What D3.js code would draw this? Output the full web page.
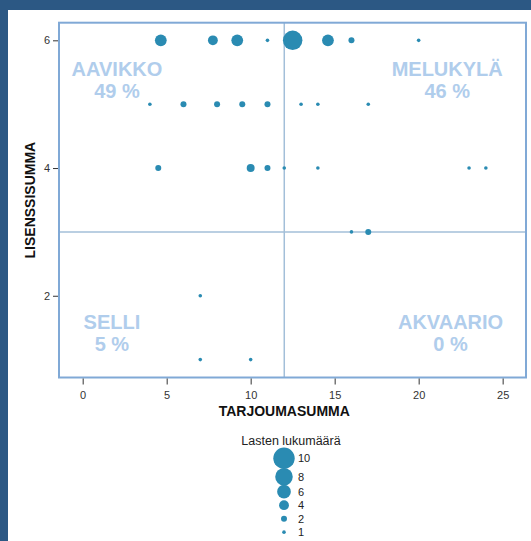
<html>
    <style>
        body {
            margin: 0;
            background: #2c5884;
        }

        svg {
            display: block;
            font-family: 'Liberation Sans', Arial, sans-serif;
        }

        .tick text {
            font-size: 11px;
            fill: #333;
        }

        .tick line {
            stroke: #333;
        }

        .axis-label {
            font-size: 14px;
            font-weight: bold;
            fill: #111;
        }

        .quadrant {
            font-size: 20px;
            font-weight: bold;
            fill: #b0cdec;
            text-anchor: middle;
        }

        .legend-title {
            font-size: 12.5px;
            fill: #222;
            text-anchor: middle;
        }

        .legend-label {
            font-size: 11px;
            fill: #222;
        }
    </style>

    <body>
        <svg width="531" height="541"></svg>

        <script src="https://cdn.jsdelivr.net/npm/d3@7/dist/d3.min.js"></script>

        <script>
            // tarjoumasumma (x), lisenssisumma (y), lasten lukumäärä (size)
            let tarjous = [
                4.65, 7.75, 9.2, 11, 12.5, 14.6, 16, 20,
                4, 6, 8, 9.5, 11, 13, 14, 17,
                4.5, 10, 11, 12, 14, 23, 24,
                16, 17,
                7,
                7, 10
            ]
            let lisenssi = [
                6, 6, 6, 6, 6, 6, 6, 6,
                5, 5, 5, 5, 5, 5, 5, 5,
                4, 4, 4, 4, 4, 4, 4,
                3, 3,
                2,
                1, 1
            ]
            let lapset = [
                5, 4, 5, 1, 9, 5, 2, 1,
                1, 2, 2, 2, 2, 1, 1, 1,
                2, 3, 2, 1, 1, 1, 1,
                1, 2,
                1,
                1, 1
            ]

            let xTicks = [0, 5, 10, 15, 20, 25]
            let yTicks = [2, 4, 6]
            let legendValues = [10, 8, 6, 4, 2, 1]

            let quadrants = [
                {name: "AAVIKKO", pct: "49 %", x: 2.04, y: 5.44},
                {name: "MELUKYLÄ", pct: "46 %", x: 21.7, y: 5.44},
                {name: "SELLI", pct: "5 %", x: 1.74, y: 1.48},
                {name: "AKVAARIO", pct: "0 %", x: 21.9, y: 1.48}
            ]

            let data = tarjous.map((d, i) => ({x: d, y: lisenssi[i], n: lapset[i]}))

            let svg = d3.select("svg")

            let frame = {left: 59, right: 526, top: 22.7, bottom: 377.5}

            let x = d3.scaleLinear()
                .domain([-1.41, 26.39])
                .range([frame.left, frame.right])

            let y = d3.scaleLinear()
                .domain([0.72, 6.276])
                .range([frame.bottom, frame.top])

            let r = d3.scaleLinear()
                .domain([1, 2, 10])
                .range([1.8, 3, 10.7])

            let color = "#2a8bb2"

            // white panel
            svg.append("rect")
                .attr("x", 8)
                .attr("y", 10)
                .attr("width", 531 - 8)
                .attr("height", 541 - 10)
                .attr("fill", "white")

            // quadrant labels
            quadrants.forEach(q => {
                svg.append("text")
                    .attr("class", "quadrant")
                    .attr("x", x(q.x))
                    .attr("y", y(q.y))
                    .text(q.name)
                svg.append("text")
                    .attr("class", "quadrant")
                    .attr("x", x(q.x))
                    .attr("y", y(q.y) + 22)
                    .text(q.pct)
            })

            // reference lines
            svg.append("line")
                .attr("x1", x(12)).attr("x2", x(12))
                .attr("y1", frame.top).attr("y2", frame.bottom)
                .attr("stroke", "#a3bfd9")
                .attr("stroke-width", 1.5)

            svg.append("line")
                .attr("x1", frame.left).attr("x2", frame.right)
                .attr("y1", y(3)).attr("y2", y(3))
                .attr("stroke", "#a3bfd9")
                .attr("stroke-width", 1.5)

            // points
            svg.append("g")
                .selectAll("circle")
                .data(data)
                .join("circle")
                .attr("cx", d => x(d.x))
                .attr("cy", d => y(d.y))
                .attr("r", d => r(d.n))
                .attr("fill", color)

            // frame
            svg.append("rect")
                .attr("x", frame.left)
                .attr("y", frame.top)
                .attr("width", frame.right - frame.left)
                .attr("height", frame.bottom - frame.top)
                .attr("fill", "none")
                .attr("stroke", "#80a9d6")
                .attr("stroke-width", 2)

            // axes
            svg.append("g")
                .attr("transform", `translate(0, ${frame.bottom + 1})`)
                .call(d3.axisBottom(x).tickValues(xTicks).tickSize(6).tickPadding(7))
                .call(g => g.select(".domain").remove())

            svg.append("g")
                .attr("transform", `translate(${frame.left - 1}, 0)`)
                .call(d3.axisLeft(y).tickValues(yTicks).tickSize(5).tickPadding(3)
                    .tickFormat(d3.format("d")))
                .call(g => g.select(".domain").remove())

            svg.append("text")
                .attr("class", "axis-label")
                .attr("text-anchor", "middle")
                .attr("x", x(12))
                .attr("y", 416)
                .text("TARJOUMASUMMA")

            svg.append("text")
                .attr("class", "axis-label")
                .attr("text-anchor", "middle")
                .attr("transform", `translate(35, ${(frame.top + frame.bottom) / 2}) rotate(-90)`)
                .text("LISENSSISUMMA")

            // legend
            let legend = svg.append("g")
            legend.append("text")
                .attr("class", "legend-title")
                .attr("x", 291)
                .attr("y", 445)
                .text("Lasten lukumäärä")

            let ly = 458.3
            legendValues.forEach((v, i) => {
                if (i > 0) {
                    ly += Math.max(13.5, (r(legendValues[i - 1]) + r(v)) * 0.95)
                }
                legend.append("circle")
                    .attr("cx", 284)
                    .attr("cy", ly)
                    .attr("r", r(v))
                    .attr("fill", color)
                legend.append("text")
                    .attr("class", "legend-label")
                    .attr("x", 298)
                    .attr("y", ly + 4)
                    .text(v)
            })
        </script>
    </body>
</html>
